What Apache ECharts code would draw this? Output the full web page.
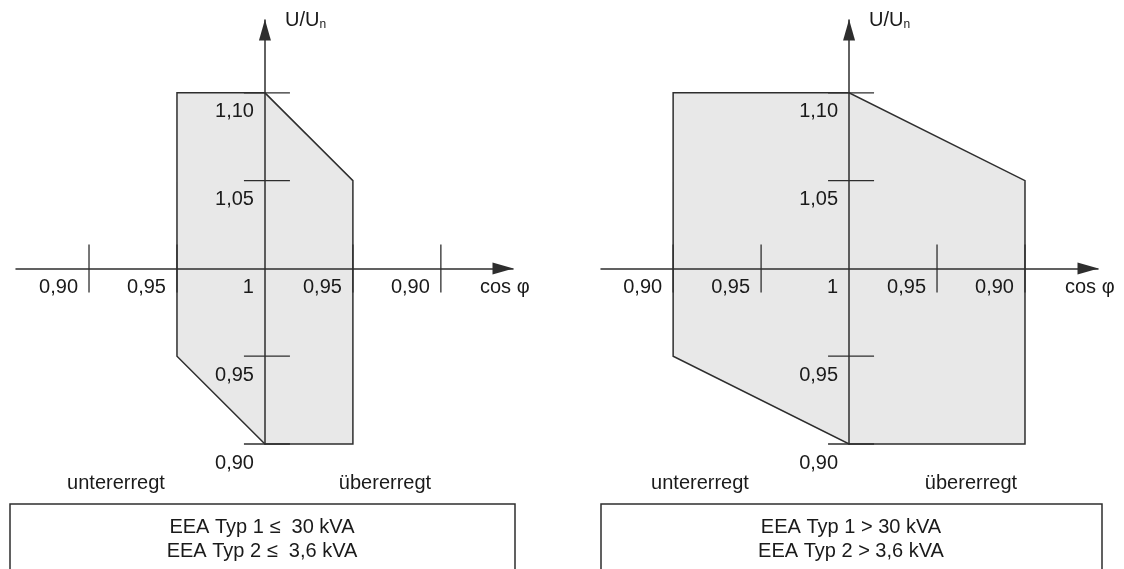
<!DOCTYPE html>
<html lang="de">
<head>
    <meta charset="UTF-8">
    <title>Blindleistung EEA</title>
    <script src="https://cdn.jsdelivr.net/npm/echarts@6.0.0/dist/echarts.min.js"></script>
    <style>
        html, body { margin: 0; padding: 0; background: #fff; }
    </style>
</head>
<body>
<div id="main" style="width:1124px;height:569px;"></div>
<script>
    // x: Schritte von cos φ = 1 aus (negativ = untererregt, positiv = übererregt)
    var cosPhiPos = [-2, -1, 0, 1, 2];
    var cosPhiLabels = ['0,90', '0,95', '1', '0,95', '0,90'];
    // y: U/Un
    var uTicks = [0.90, 0.95, 1.05, 1.10];
    var uTickLabels = ['0,90', '0,95', '1,05', '1,10'];

    // Bereich EEA klein (Typ 1 <= 30 kVA, Typ 2 <= 3,6 kVA)
    var smallPhi = [-1, 0, 1, 1, 0, -1];
    var smallU = [1.10, 1.10, 1.05, 0.90, 0.90, 0.95];
    // Bereich EEA gross
    var largePhi = [-2, 0, 2, 2, 0, -2];
    var largeU = [1.10, 1.10, 1.05, 0.90, 0.90, 0.95];

    var sideLabels = ['untererregt', 'übererregt'];
    var boxText = [
        ['EEA Typ 1 ≤  30 kVA', 'EEA Typ 2 ≤  3,6 kVA'],
        ['EEA Typ 1 > 30 kVA', 'EEA Typ 2 > 3,6 kVA']
    ];

    var FONT = 'Liberation Sans, Arial, sans-serif';
    var INK = '#1a1a1a';
    var LINE = '#2e2e2e';

    // Raster der beiden Diagramme
    var GRID_TOP = 20, GRID_H = 424, GRID_W = 497;
    var Y_MIN = -0.1, Y_MAX = 0.1415;

    var myChart = echarts.init(document.getElementById('main'));

    // Werte relativ zu U/Un = 1, damit die x-Achse durch 1 geht
    function toPoints(phi, u) {
        return phi.map(function (p, i) { return [p, +(u[i] - 1).toFixed(4)]; });
    }

    function polygonSeries(idx, pts) {
        return {
            type: 'custom', xAxisIndex: idx, yAxisIndex: idx, z: 1, silent: true,
            data: pts,
            renderItem: function (params, api) {
                if (params.dataIndex > 0) return null;
                return {
                    type: 'polygon',
                    shape: { points: pts.map(function (p) { return api.coord(p); }) },
                    style: { fill: '#e8e8e8', stroke: LINE, lineWidth: 1.5 }
                };
            }
        };
    }

    // Teilstriche auf beiden Seiten der Achsen
    function tickSeries(idx) {
        var data = [];
        cosPhiPos.forEach(function (p) { if (p !== 0) data.push([p, 0, 0]); });
        uTicks.forEach(function (u) { data.push([0, +(u - 1).toFixed(4), 1]); });
        return {
            type: 'custom', xAxisIndex: idx, yAxisIndex: idx, z: 6, silent: true,
            data: data,
            renderItem: function (params, api) {
                var pt = api.coord([api.value(0), api.value(1)]);
                var shape = api.value(2) === 1
                    ? { x1: pt[0] - 21, y1: pt[1], x2: pt[0] + 25, y2: pt[1] }
                    : { x1: pt[0], y1: pt[1] - 24, x2: pt[0], y2: pt[1] + 24 };
                return { type: 'line', shape: shape, style: { stroke: LINE, lineWidth: 1.3 } };
            }
        };
    }

    function xAxisFor(idx, min, max, greyRight) {
        // Achse von unten auf U/Un = 1 verschieben
        var off = -(0 - Y_MIN) / (Y_MAX - Y_MIN) * GRID_H;
        return {
            gridIndex: idx, type: 'value', min: min, max: max, z: 3,
            position: 'bottom', offset: off,
            name: 'cos φ', nameLocation: 'end', nameGap: -33,
            nameTextStyle: { color: INK, fontSize: 20, fontFamily: FONT, align: 'left', verticalAlign: 'top', padding: [9, 0, 0, 0] },
            axisLine: { onZero: false, symbol: ['none', 'triangle'], symbolSize: [12, 21], symbolOffset: [0, -10],
                lineStyle: { color: LINE, width: 1.5 } },
            axisTick: { show: false },
            splitLine: { show: false },
            axisLabel: {
                customValues: cosPhiPos,
                margin: 9,
                align: 'right',
                padding: [0, 11, 0, 0],
                fontSize: 20, fontFamily: FONT,
                color: function (v) { return (greyRight && v === 2) ? '#707070' : INK; },
                formatter: function (v) {
                    var i = cosPhiPos.indexOf(Math.round(v));
                    return i < 0 ? '' : cosPhiLabels[i];
                }
            }
        };
    }

    function yAxisFor(idx, xMin, xMax) {
        // Achse von links auf cos φ = 1 verschieben
        var off = -(0 - xMin) / (xMax - xMin) * GRID_W;
        return {
            gridIndex: idx, type: 'value', min: Y_MIN, max: Y_MAX, z: 3,
            position: 'left', offset: off,
            name: 'U/U{s|n}', nameLocation: 'end', nameGap: 0,
            nameTextStyle: {
                color: INK, fontSize: 20, fontFamily: FONT, align: 'left', verticalAlign: 'middle', padding: [0, 0, 0, 20],
                rich: { s: { fontSize: 12, fontFamily: FONT, color: INK, padding: [9, 0, 0, 0] } }
            },
            axisLine: { onZero: false, symbol: ['none', 'triangle'], symbolSize: [12, 21], symbolOffset: [0, -10],
                lineStyle: { color: LINE, width: 1.5 } },
            axisTick: { show: false },
            splitLine: { show: false },
            axisLabel: {
                customValues: uTicks.map(function (u) { return +(u - 1).toFixed(4); }),
                margin: 11,
                verticalAlign: 'top',
                padding: [9, 0, 0, 0],
                fontSize: 20, fontFamily: FONT, color: INK,
                formatter: function (v) {
                    for (var i = 0; i < uTicks.length; i++) {
                        if (Math.abs(uTicks[i] - 1 - v) < 1e-6) return uTickLabels[i];
                    }
                    return '';
                }
            }
        };
    }

    function panelGraphics(cx, boxLeft, boxWidth, sideX, lines) {
        return [
            { type: 'text', x: sideX[0], y: 483, silent: true,
              style: { text: sideLabels[0], fontSize: 20, fontFamily: FONT, fill: INK, align: 'center', verticalAlign: 'middle' } },
            { type: 'text', x: sideX[1], y: 483, silent: true,
              style: { text: sideLabels[1], fontSize: 20, fontFamily: FONT, fill: INK, align: 'center', verticalAlign: 'middle' } },
            { type: 'rect', silent: true,
              shape: { x: boxLeft, y: 504, width: boxWidth, height: 90 },
              style: { fill: 'none', stroke: LINE, lineWidth: 1.5 } },
            { type: 'text', x: cx, y: 539, silent: true,
              style: { text: lines.join('\n'), fontSize: 20, lineHeight: 24, fontFamily: FONT, fill: INK, align: 'center', verticalAlign: 'middle' } }
        ];
    }

    var xRange = [[-2.83, 2.82], [-2.82, 2.83]];

    myChart.setOption({
        backgroundColor: '#fff',
        animation: false,
        grid: [
            { left: 16, top: GRID_TOP, width: GRID_W, height: GRID_H, outerBoundsMode: 'none' },
            { left: 601, top: GRID_TOP, width: GRID_W, height: GRID_H, outerBoundsMode: 'none' }
        ],
        xAxis: [
            xAxisFor(0, xRange[0][0], xRange[0][1], false),
            xAxisFor(1, xRange[1][0], xRange[1][1], true)
        ],
        yAxis: [
            yAxisFor(0, xRange[0][0], xRange[0][1]),
            yAxisFor(1, xRange[1][0], xRange[1][1])
        ],
        series: [
            polygonSeries(0, toPoints(smallPhi, smallU)),
            polygonSeries(1, toPoints(largePhi, largeU)),
            tickSeries(0),
            tickSeries(1)
        ],
        graphic: panelGraphics(262, 10, 505, [116, 385], boxText[0])
            .concat(panelGraphics(851, 601, 501, [700, 971], boxText[1]))
    });
</script>
</body>
</html>
